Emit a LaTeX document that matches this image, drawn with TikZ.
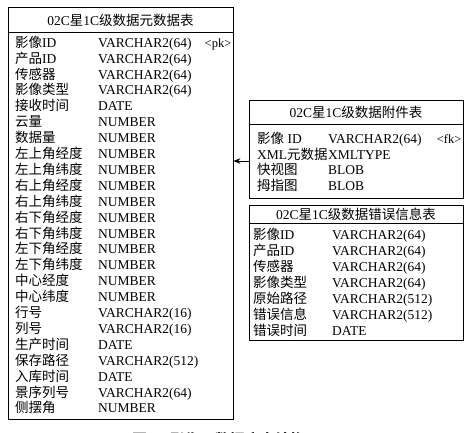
\documentclass[tikz,border=0pt]{standalone}
\usepackage{fontspec}
\setmainfont{Liberation Serif}
\newfontfamily\cjk{Noto Sans CJK SC}
\newcommand{\zh}[1]{{\cjk #1}}
\usetikzlibrary{arrows.meta}

\begin{document}
\begin{tikzpicture}[x=1pt, y=-1pt, >={Stealth[length=7pt, width=5.5pt]},
    every node/.style={inner sep=0pt, font=\fontsize{13.5}{15}\selectfont},
    cell/.style={anchor=west, text height=11pt, text depth=2pt},
    tbl/.style={draw, line width=0.8pt}]

    \useasboundingbox (0,0) rectangle (473,432);
    \clip (0,0) rectangle (473,432);

    % metadata table
    \node[tbl, minimum width=225pt, minimum height=412pt] (meta) at (120.5,213) {};
    \node (metatitle) at (120.5,20.5) {02C\zh{星}1C\zh{级数据元数据表}};
    \draw[line width=0.8pt] (meta.west |- 0,32) -- (meta.east |- 0,32);
    \foreach \nm/\tp [count=\i from 0] in {
        \zh{影像}ID/VARCHAR2(64), \zh{产品}ID/VARCHAR2(64),
        \zh{传感器}/VARCHAR2(64), \zh{影像类型}/VARCHAR2(64),
        \zh{接收时间}/DATE, \zh{云量}/NUMBER, \zh{数据量}/NUMBER,
        \zh{左上角经度}/NUMBER, \zh{左上角纬度}/NUMBER,
        \zh{右上角经度}/NUMBER, \zh{右上角纬度}/NUMBER,
        \zh{右下角经度}/NUMBER, \zh{右下角纬度}/NUMBER,
        \zh{左下角经度}/NUMBER, \zh{左下角纬度}/NUMBER,
        \zh{中心经度}/NUMBER, \zh{中心纬度}/NUMBER,
        \zh{行号}/VARCHAR2(16), \zh{列号}/VARCHAR2(16),
        \zh{生产时间}/DATE, \zh{保存路径}/VARCHAR2(512),
        \zh{入库时间}/DATE, \zh{景序列号}/VARCHAR2(64), \zh{侧摆角}/NUMBER} {
        \node[cell] (meta-n\i) at (15,{42.7+15.9*\i}) {\nm};
        \node[cell] (meta-t\i) at (98,{42.7+15.9*\i}) {\tp};
    }
    \node[cell, anchor=east, font=\fontsize{12.5}{14}\selectfont] (pk) at (231.5,42.7) {<pk>};

    % attachment table
    \node[tbl, minimum width=214pt, minimum height=98pt] (att) at (356,149) {};
    \node (atttitle) at (356,112.5) {02C\zh{星}1C\zh{级数据附件表}};
    \draw[line width=0.8pt] (att.west |- 0,124) -- (att.east |- 0,124);
    \foreach \nm/\tp [count=\i from 0] in {
        \zh{影像} ID/VARCHAR2(64), XML\zh{元数据}/XMLTYPE,
        \zh{快视图}/BLOB, \zh{拇指图}/BLOB} {
        \node[cell] (att-n\i) at (257,{139+15.7*\i}) {\nm};
        \node[cell] (att-t\i) at (328,{139+15.7*\i}) {\tp};
    }
    \node[cell, anchor=east, font=\fontsize{12.5}{14}\selectfont] (fk) at (461.5,139) {<fk>};

    % error table
    \node[tbl, minimum width=214pt, minimum height=135pt] (err) at (356,273) {};
    \node (errtitle) at (356,214.5) {02C\zh{星}1C\zh{级数据错误信息表}};
    \draw[line width=0.8pt] (err.west |- 0,223) -- (err.east |- 0,223);
    \foreach \nm/\tp [count=\i from 0] in {
        \zh{影像}ID/VARCHAR2(64), \zh{产品}ID/VARCHAR2(64),
        \zh{传感器}/VARCHAR2(64), \zh{影像类型}/VARCHAR2(64),
        \zh{原始路径}/VARCHAR2(512), \zh{错误信息}/VARCHAR2(512),
        \zh{错误时间}/DATE} {
        \node[cell] (err-n\i) at (253,{235+16*\i}) {\nm};
        \node[cell] (err-t\i) at (332,{235+16*\i}) {\tp};
    }

    \draw[->, line width=0.8pt] (att.west |- 0,161) -- (meta.east |- 0,161);

    \node[cell, font=\fontsize{15}{17}\selectfont\cjk\bfseries] (caption) at (132,440.5) {图1\hspace{0.9em}影像元数据库表结构};
\end{tikzpicture}
\end{document}
